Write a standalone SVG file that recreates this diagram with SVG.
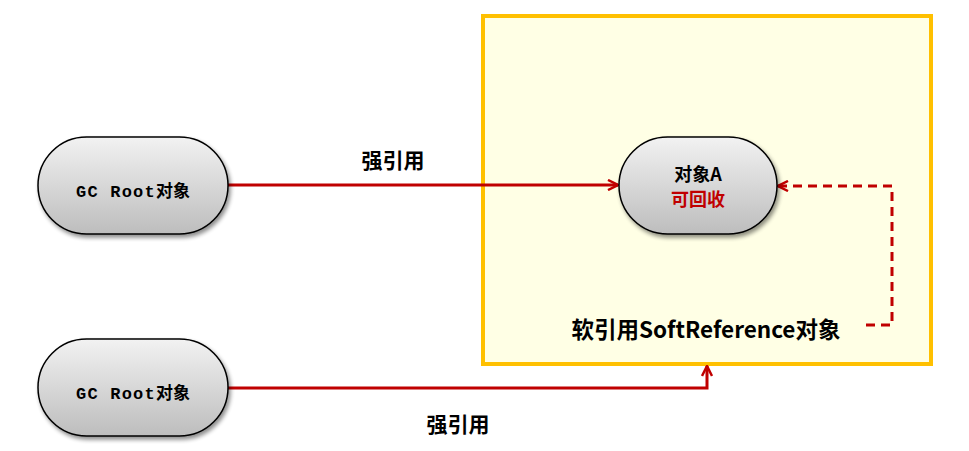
<svg xmlns="http://www.w3.org/2000/svg" width="969" height="451" viewBox="0 0 969 451">
<defs>
<linearGradient id="g" x1="0" y1="0" x2="0" y2="1">
<stop offset="0" stop-color="#F2F2F2"/>
<stop offset="1" stop-color="#BDBDBD"/>
</linearGradient>
<filter id="sh" x="-20%" y="-20%" width="140%" height="150%">
<feGaussianBlur in="SourceAlpha" stdDeviation="2"/>
<feOffset dx="2" dy="3" result="b"/>
<feComponentTransfer><feFuncA type="linear" slope="0.45"/></feComponentTransfer>
<feMerge><feMergeNode/><feMergeNode in="SourceGraphic"/></feMerge>
</filter>
<marker id="arr" viewBox="0 0 12 12" refX="11" refY="6" markerWidth="12" markerHeight="12" markerUnits="userSpaceOnUse" orient="auto">
<path d="M1,1 L11,6 L1,11" fill="none" stroke="#C00000" stroke-width="2.5"/>
</marker>
</defs>
<style>
.node{fill:url(#g);stroke:#000;stroke-width:1.5;filter:url(#sh)}
.lbl{font-family:"Noto Sans CJK SC","Liberation Sans",sans-serif;font-weight:bold;fill:#000}
.mono{font-family:"Liberation Mono","Noto Sans CJK SC",monospace;font-weight:bold;font-size:17px}
.cjk{font-family:"Noto Sans CJK SC",sans-serif;font-weight:bold;font-size:17px}
.conn{fill:none;stroke:#C00000;stroke-width:3}
.dash{stroke-dasharray:9,6}
</style>
<g id="softref-box">
<rect x="483" y="16" width="448" height="348" fill="#FFFFE5" stroke="#FFC000" stroke-width="4"/>
<text class="lbl" x="706" y="338" font-size="22.5" text-anchor="middle">软引用SoftReference对象</text>
</g>
<g id="connectors">
<path class="conn" d="M228,185 L618,185" marker-end="url(#arr)"/>
<path class="conn dash" d="M866,325 L892,325 L892,186 L778,186" marker-end="url(#arr)"/>
<path class="conn" d="M228,388 L707,388 L707,366" marker-end="url(#arr)"/>
<text class="lbl" x="393" y="168" font-size="21" text-anchor="middle">强引用</text>
<text class="lbl" x="458" y="432" font-size="21" text-anchor="middle">强引用</text>
</g>
<g id="gcroot1">
<rect class="node" x="38" y="137" width="190" height="97" rx="48.5"/>
<text x="133" y="197" text-anchor="middle"><tspan class="mono" letter-spacing="1.2">GC Root</tspan><tspan class="cjk">对象</tspan></text>
</g>
<g id="gcroot2">
<rect class="node" x="38" y="339" width="190" height="97" rx="48.5"/>
<text x="133" y="399" text-anchor="middle"><tspan class="mono" letter-spacing="1.2">GC Root</tspan><tspan class="cjk">对象</tspan></text>
</g>
<g id="objA">
<rect class="node" x="619" y="137" width="158" height="97" rx="48.5"/>
<text class="lbl" x="698" y="181" font-size="18" text-anchor="middle">对象A</text>
<text class="lbl" x="698" y="206" font-size="18" text-anchor="middle" style="fill:#C00000">可回收</text>
</g>
</svg>
